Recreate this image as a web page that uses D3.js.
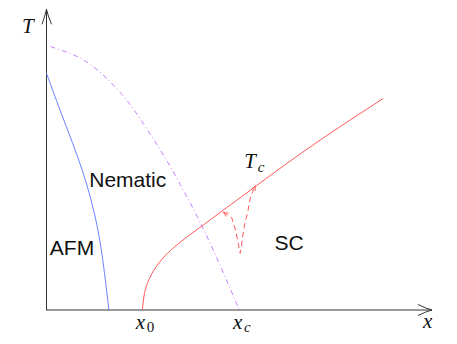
<!DOCTYPE html>
<html><head><meta charset="utf-8">
<script src="https://cdn.jsdelivr.net/npm/d3@7"></script>
<style>body{margin:0;background:#fff}svg{display:block}</style>
</head><body>
<script>
// Phase diagram data (x = doping, T = temperature)
const afmX = [0.01, 0.36, 0.69, 1.04, 1.35, 1.50, 1.63];
const afmT = [7.9, 6.67, 5.57, 4.33, 2.77, 1.43, 0];
const nemX = [0.12, 0.70, 1.06, 1.40, 1.66, 1.89, 2.18, 3.04, 3.43, 4.12, 5.01];
const nemT = [8.78, 8.53, 8.28, 7.94, 7.61, 7.30, 6.89, 5.20, 4.30, 2.67, 0];
const scX = [2.495, 2.539, 2.604, 2.694, 2.798, 2.909, 3.031, 3.168, 3.342, 3.516, 3.782, 4.075, 4.767, 5.459, 6.321, 7.098, 7.876, 8.731];
const scT = [0, 0.467, 0.8, 1.083, 1.333, 1.533, 1.733, 1.917, 2.117, 2.3, 2.557, 2.833, 3.493, 4.15, 4.96, 5.66, 6.33, 7.047];
const dipX = [4.59, 4.81, 4.87, 4.92, 4.98, 5.03, 5.05, 5.10, 5.16, 5.23, 5.28, 5.37, 5.43];
const dipT = [3.26, 3.08, 2.83, 2.61, 2.22, 1.89, 2.0, 2.5, 2.94, 3.28, 3.67, 4.0, 4.14];
const xTickLabels = [{base: "x", sub: "0", value: 2.495}, {base: "x", sub: "c", value: 5.01}];
const axisLabels = {x: "x", y: "T"};
const regionLabels = [
  {text: "AFM", x: 0.1, T: 1.83},
  {text: "Nematic", x: 1.12, T: 4.1},
  {text: "SC", x: 5.92, T: 2.0}
];
const tcLabel = {base: "T", sub: "c", x: 5.16, T: 4.72};

const W = 457, H = 344;
const xS = d3.scaleLinear().domain([0, 10]).range([46, 432]);
const yS = d3.scaleLinear().domain([0, 10]).range([310, 10]);

const svg = d3.select("body").append("svg").attr("width", W).attr("height", H);

// axes
const ax = svg.append("g").attr("stroke", "#333").attr("fill", "none").attr("stroke-width", 1);
ax.append("line").attr("x1", xS(0)).attr("y1", yS(0)).attr("x2", xS(10)).attr("y2", yS(0));
ax.append("line").attr("x1", xS(0) + 0.5).attr("y1", yS(0)).attr("x2", xS(0) + 0.5).attr("y2", yS(10) - 0.7);
const xt = [xS(10), yS(0)];
ax.append("path").attr("d", `M${xt[0]-14},${xt[1]-5.5} Q${xt[0]-6},${xt[1]-1.5} ${xt[0]},${xt[1]} Q${xt[0]-6},${xt[1]+1.5} ${xt[0]-14},${xt[1]+5.5}`);
const yt = [xS(0) + 0.5, yS(10) - 0.7];
ax.append("path").attr("d", `M${yt[0]-4.5},${yt[1]+15} Q${yt[0]-1.3},${yt[1]+6} ${yt[0]},${yt[1]} Q${yt[0]+1.3},${yt[1]+6} ${yt[0]+5},${yt[1]+15}`);

function pts(xs, ts) { return xs.map((x, i) => [xS(x), yS(ts[i])]); }

svg.append("path").attr("d", d3.line().curve(d3.curveBasis)(pts(afmX, afmT)))
  .attr("fill", "none").attr("stroke", "#6a82ff").attr("stroke-width", 1);
svg.append("path").attr("d", d3.line().curve(d3.curveBasis)(pts(nemX, nemT)))
  .attr("fill", "none").attr("stroke", "#c77dff").attr("stroke-width", 1)
  .attr("stroke-dasharray", "5,3,1,3");
svg.append("path").attr("d", d3.line().curve(d3.curveMonotoneX)(pts(scX, scT)))
  .attr("fill", "none").attr("stroke", "#ff5a5a").attr("stroke-width", 1);

// arrow marker for dashed dip
const defs = svg.append("defs");
defs.append("marker").attr("id", "ah").attr("viewBox", "0 0 10 10")
  .attr("refX", 9).attr("refY", 5).attr("markerWidth", 6).attr("markerHeight", 6)
  .attr("markerUnits", "userSpaceOnUse").attr("orient", "auto-start-reverse")
  .append("path").attr("d", "M1,1.5 Q6,4.2 9,5 Q6,5.8 1,8.5")
  .attr("fill", "none").attr("stroke", "#ff5a5a").attr("stroke-width", 1.3);

svg.append("path").attr("d", d3.line().curve(d3.curveLinear)(pts(dipX, dipT)))
  .attr("fill", "none").attr("stroke", "#ff5a5a").attr("stroke-width", 1)
  .attr("stroke-dasharray", "5.5,3.5")
  .attr("marker-start", "url(#ah)").attr("marker-end", "url(#ah)");

// labels
const serif = "'Liberation Serif', 'DejaVu Serif', serif";
const sans = "'Liberation Sans', Arial, sans-serif";
function mathLabel(x, y, base, sub, bsize, ssize, dx, dy) {
  svg.append("text").attr("x", x).attr("y", y)
    .attr("font-family", serif).attr("font-style", "italic").attr("font-size", bsize).attr("fill", "#111").text(base);
  if (sub) {
    svg.append("text").attr("x", x + dx).attr("y", y + dy)
      .attr("font-family", serif).attr("font-style", /\d/.test(sub) ? "normal" : "italic")
      .attr("font-size", ssize).attr("fill", "#111").text(sub);
  }
}
mathLabel(22, 33.3, axisLabels.y, null, 21);
mathLabel(423, 328.3, axisLabels.x, null, 21);
xTickLabels.forEach(d => {
  mathLabel(xS(d.value) - 6.5, 328.8, d.base, d.sub, 21, 15, 11, 3.5);
});
mathLabel(xS(tcLabel.x) - 1, yS(tcLabel.T), tcLabel.base, tcLabel.sub, 21, 15, 13.5, 3.5);

regionLabels.forEach(d => {
  svg.append("text").attr("x", xS(d.x)).attr("y", yS(d.T))
    .attr("font-family", sans).attr("font-size", 21).attr("fill", "#111").text(d.text);
});
</script>
</body></html>
